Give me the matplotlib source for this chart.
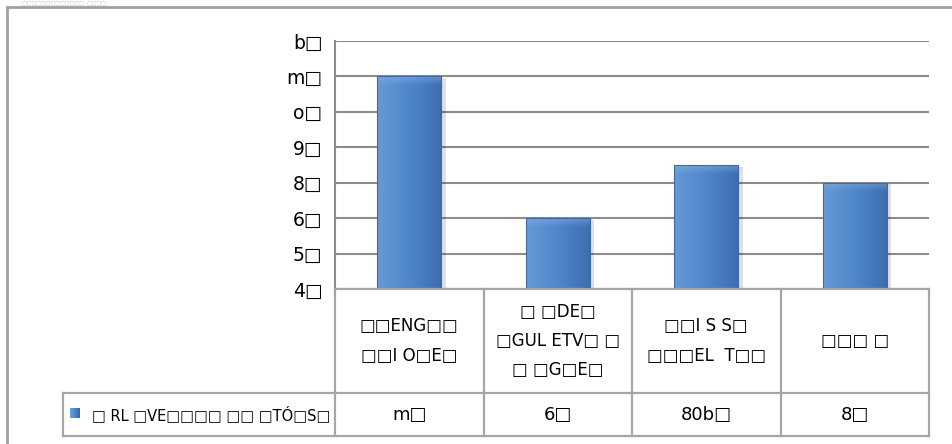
import numpy as np
import matplotlib
matplotlib.use("Agg")
import matplotlib.pyplot as plt
from matplotlib.patches import Rectangle
from matplotlib.lines import Line2D

plt.rcParams["font.family"] = ["DejaVu Sans"]
T = "\u25a1"  # the source's symbol-font characters render as empty boxes

# ---- data ----
values = [6, 2, 3.5, 3]
ytick_values = [0, 1, 2, 3, 4, 5, 6, 7]
ytick_labels = ["4" + T, "5" + T, "6" + T, "8" + T, "9" + T, "o" + T, "m" + T, "b" + T]
categories = [
    T + T + "ENG" + T + T + "\n" + T + T + "I O" + T + "E" + T,
    T + " " + T + "DE" + T + "\n" + T + "GUL ETV" + T + " " + T + "\n" + T + " " + T + "G" + T + "E" + T,
    T + T + "I S S" + T + "\n" + T + T + T + "EL  T" + T + T,
    T + T + T + " " + T,
]
value_labels = ["m" + T, "6" + T, "80b" + T, "8" + T]
series_label = T + " RL " + T + "VE" + T + T + T + T + " " + T + T + " " + T + "TÓ" + T + "S" + T
title_text = T * 13 + "  " + T * 4

W, H = 952, 444
fig = plt.figure(figsize=(W / 100, H / 100), dpi=100)
fig.patch.set_facecolor("white")

def fx(px):
    return px / W

def fy(py):
    return 1 - py / H

GRID = "#8c8c8c"
TAB = "#a6a6a6"

# outer border (extends past right/bottom)
fig.add_artist(Rectangle((fx(7), fy(460)), fx(960) - fx(7), fy(7) - fy(460),
                         transform=fig.transFigure, fill=False, edgecolor="#a0a0a0", lw=2))
# faint title strip at the very top
fig.text(fx(22), fy(5.5), title_text, fontsize=3.6, color="#c4c4c4", va="baseline", ha="left")

# plot area
L, R, TOP, BOT = 335, 929, 41, 289
ax = fig.add_axes([fx(L), fy(BOT), fx(R) - fx(L), fy(TOP) - fy(BOT)])
ax.set_xlim(0, len(values))
ax.set_ylim(0, 7)
ax.set_yticks(ytick_values)
ax.set_yticklabels(ytick_labels, fontsize=13.5)
ax.tick_params(axis="y", length=0, pad=9)
ax.set_xticks([])
for s in ["top", "right", "bottom"]:
    ax.spines[s].set_visible(False)
ax.spines["left"].set_color(GRID)
ax.spines["left"].set_linewidth(1.5)
ax.yaxis.grid(True, color=GRID, lw=1.5)
ax.set_axisbelow(True)

# gradient bars
bw = 0.43
nx, ny = 60, 200
xs = np.linspace(0, 1, nx)
for i, v in enumerate(values):
    x0 = i + 0.5 - bw / 2
    ax.add_patch(Rectangle((x0 + 0.03, 0), bw, v - 0.05, facecolor="#000000", alpha=0.12,
                           edgecolor="none", zorder=2))
    ys = np.linspace(0, v, ny)
    base_l = np.array([0.40, 0.60, 0.84])
    base_m = np.array([0.31, 0.53, 0.79])
    base_r = np.array([0.24, 0.43, 0.69])
    img = np.zeros((ny, nx, 3))
    for j, t in enumerate(xs):
        if t < 0.5:
            c = base_l * (1 - t / 0.5) + base_m * (t / 0.5)
        else:
            c = base_m * (1 - (t - 0.5) / 0.5) + base_r * ((t - 0.5) / 0.5)
        img[:, j, :] = c
    top_d = v - ys
    hl = np.clip(1 - top_d / 0.25, 0, 1)[:, None, None]
    img = img * (1 - 0.45 * hl) + np.array([0.55, 0.72, 0.92]) * 0.45 * hl
    im = ax.imshow(img, extent=(x0, x0 + bw, 0, v), origin="lower", aspect="auto",
                   interpolation="bilinear", zorder=3)
    clip = Rectangle((x0, 0), bw, v, transform=ax.transData, facecolor="none", edgecolor="none")
    ax.add_patch(clip)
    im.set_clip_path(clip)
    ax.add_patch(Rectangle((x0, 0), bw, v, facecolor="none", edgecolor="#3d6aa3", lw=0.8, zorder=4))
ax.set_xlim(0, len(values))
ax.set_ylim(0, 7)

# data table
ROW1, ROW2, ROW3 = 289, 393, 436
LEG_L = 63
col_edges = [L + (R - L) * k / len(values) for k in range(len(values) + 1)]

def hline(y, xa, xb):
    fig.add_artist(Line2D([fx(xa), fx(xb)], [fy(y), fy(y)], transform=fig.transFigure,
                          color=TAB, lw=1.6, zorder=10))

def vline(x, ya, yb):
    fig.add_artist(Line2D([fx(x), fx(x)], [fy(ya), fy(yb)], transform=fig.transFigure,
                          color=TAB, lw=1.6, zorder=10))

hline(ROW1, L, R)
hline(ROW2, LEG_L, R)
hline(ROW3, LEG_L, R)
for x in col_edges:
    vline(x, ROW1, ROW3)
vline(LEG_L, ROW2, ROW3)

for k in range(len(values)):
    cx = (col_edges[k] + col_edges[k + 1]) / 2
    fig.text(fx(cx), fy((ROW1 + ROW2) / 2), categories[k], ha="center", va="center",
             fontsize=12, linespacing=1.8)
    fig.text(fx(cx), fy((ROW2 + ROW3) / 2), value_labels[k], ha="center", va="center",
             fontsize=13)

# legend key in table
ax_key = fig.add_axes([fx(70), fy(418), fx(80) - fx(70), fy(408) - fy(418)])
key = np.linspace(0, 1, 20)
kimg = np.zeros((20, 20, 3))
for j in range(20):
    kimg[:, j, :] = np.array([0.42, 0.64, 0.90]) * (1 - key[j]) + np.array([0.20, 0.40, 0.68]) * key[j]
ax_key.imshow(kimg, aspect="auto")
ax_key.axis("off")
fig.text(fx(92), fy((ROW2 + ROW3) / 2), series_label, ha="left", va="center", fontsize=10.5)

fig.savefig("out.png", dpi=100, facecolor="white")
